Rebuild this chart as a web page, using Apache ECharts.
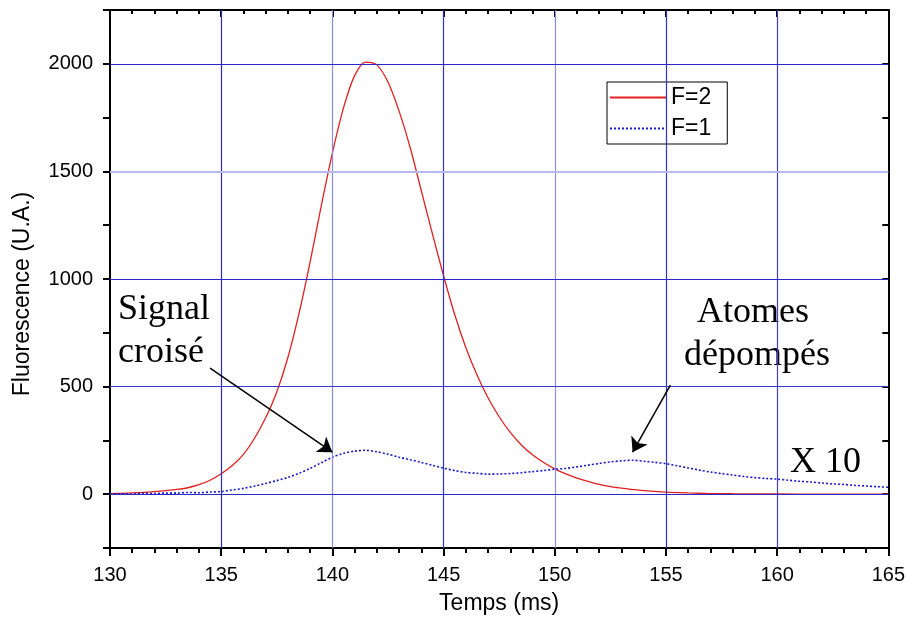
<!DOCTYPE html>
<html><head><meta charset="utf-8">
<script src="https://cdn.jsdelivr.net/npm/echarts@6/dist/echarts.min.js"></script>
<style>html,body{margin:0;padding:0;background:#fff}#c{width:908px;height:621px}</style>
</head><body><div id="c"></div>
<script>
// ---- data ----
const f2Time = [130,131,132,133,133.5,134,134.5,135,135.5,136,136.5,137,137.5,138,138.5,139,139.5,140,140.5,141,141.5,142,142.5,143,143.5,144,144.5,145,145.5,146,146.5,147,147.5,148,148.5,149,149.5,150,150.5,151,152,153,154,155,156,157,158,160,162,165];
const f2Vals = [3,6,12,22,30,44,65,95,133,185,260,355,475,635,840,1080,1340,1585,1795,1945,2008,1995,1915,1780,1610,1410,1210,1015,835,682,555,448,360,287,229,183,147,118,94,75,46,28,17,10,6,3,2,1,0,0];
const f1Time = [130,130.5,131,131.5,132,132.5,133,133.5,134,134.5,135,135.5,136,136.5,137,137.5,138,138.5,139,139.5,140,140.5,141,141.5,142,142.5,143,143.5,144,144.5,145,145.5,146,146.5,147,147.5,148,148.5,149,149.5,150,150.5,151,151.5,152,152.5,153,153.5,154,154.5,155,155.5,156,156.5,157,157.5,158,158.5,159,159.5,160,160.5,161,161.5,162,162.5,163,163.5,164,164.5,165];
const f1Vals = [0,2,1,4,3,5,5,8,7,10,12,20,27,38,50,63,78,97,120,146,172,190,200,204,197,186,172,160,148,134,121,110,101,97,93,94,96,100,105,110,116,120,127,135,143,150,155,158,153,148,142,132,122,112,103,96,89,82,77,73,70,65,60,57,52,48,45,41,38,35,32];
const xTicks = [130,135,140,145,150,155,160,165];
const yTickLabels = ['0','500','1000','1500','2000'];
const vGrid = [135,140,145,150,155,160];
const vGridColor = ['#2a2acc','#8a8ae0','#3030cc','#9090e2','#3030cc','#4040d0'];
const hGrid = [0,500,1000,1500,2000];
const hGridColor = ['#2a2acc','#3a3acc','#2a2acc','#b8b8ee','#2a2acc'];
const arrows = [[[134.5,586],[140.0,195]],[[155.2,507],[153.5,195]]];
const legendNames = ['F=2','F=1'];

const zip = (a,b)=>a.map((v,i)=>[v,b[i]]);
const gridLines = vGrid.map((v,i)=>({xAxis:v,lineStyle:{color:vGridColor[i]}}))
  .concat(hGrid.map((v,i)=>({yAxis:v,lineStyle:{color:hGridColor[i],width:i===3?2:1.2}})));

const chart = echarts.init(document.getElementById('c'));
const axisCommon = {
  type:'value',
  axisLine:{show:true,onZero:false,lineStyle:{color:'#000',width:2}},
  splitLine:{show:false}
};
chart.setOption({
  animation:false,
  backgroundColor:'#fff',
  grid:{left:110,right:18,top:10,bottom:73},
  legend:{
    data:legendNames, orient:'vertical', left:607, top:82,
    padding:[4,16,4,2], itemGap:8, itemWidth:56, itemHeight:20,
    borderColor:'#000', borderWidth:1, backgroundColor:'#fff',
    itemStyle:{opacity:0},
    textStyle:{fontFamily:'Liberation Sans, Arial', fontSize:23, color:'#000'}
  },
  xAxis:[
    Object.assign({},axisCommon,{min:130,max:165,interval:5,position:'bottom',
      name:'Temps (ms)', nameLocation:'middle', nameGap:44,
      nameTextStyle:{fontFamily:'Liberation Sans, Arial',fontSize:23,color:'#000'},
      axisTick:{show:true,length:8,inside:false,lineStyle:{color:'#000',width:2}},
      minorTick:{show:true,splitNumber:5,length:5,lineStyle:{color:'#000',width:2}},
      axisLabel:{fontFamily:'Liberation Sans, Arial',fontSize:20,color:'#000',margin:17}}),
    Object.assign({},axisCommon,{min:130,max:165,interval:5,position:'top',
      axisTick:{show:true,length:7,inside:true,lineStyle:{color:'#000',width:2}},
      minorTick:{show:true,splitNumber:5,length:4,lineStyle:{color:'#000',width:2}},
      axisLabel:{show:false}})
  ],
  yAxis:[
    Object.assign({},axisCommon,{min:-250,max:2250,interval:250,position:'left',
      name:'Fluorescence (U.A.)', nameLocation:'middle', nameGap:76,
      nameTextStyle:{fontFamily:'Liberation Sans, Arial',fontSize:23,color:'#000',padding:[0,0,0,-30]},
      axisTick:{show:true,length:7,inside:false,lineStyle:{color:'#000',width:2}},
      axisLabel:{fontFamily:'Liberation Sans, Arial',fontSize:20,color:'#000',margin:17,
        formatter:v=>(yTickLabels.indexOf(String(v))>=0?String(v):'')}}),
    Object.assign({},axisCommon,{min:-250,max:2250,interval:250,position:'right',
      axisTick:{show:true,length:6,inside:true,lineStyle:{color:'#000',width:2}},
      axisLabel:{show:false}})
  ],
  graphic:[
    {type:'text',left:118,top:292,style:{text:'Signal',font:'36px "Liberation Serif"',fill:'#000'}},
    {type:'text',left:118,top:335,style:{text:'croisé',font:'36px "Liberation Serif"',fill:'#000'}},
    {type:'text',left:697,top:295,style:{text:'Atomes',font:'36px "Liberation Serif"',fill:'#000'}},
    {type:'text',left:684,top:338,style:{text:'dépompés',font:'36px "Liberation Serif"',fill:'#000'}},
    {type:'text',left:790,top:445,style:{text:'X 10',font:'36px "Liberation Serif"',fill:'#000'}}
  ],
  series:[
    {name:'grid', type:'line', data:[], z:1, silent:true,
     markLine:{silent:true,symbol:['none','none'],label:{show:false},
       lineStyle:{type:'solid',width:1.2},data:gridLines}},
    {name:'F=2', type:'line', data:zip(f2Time,f2Vals), smooth:0.3, symbol:'none', z:3,
     lineStyle:{color:'#e02020',width:1.3}, itemStyle:{color:'#e02020'}},
    {name:'F=1', type:'line', data:zip(f1Time,f1Vals), smooth:0.3, symbol:'none', z:3,
     lineStyle:{color:'#1a1acc',width:1.6,type:[2,2]}, itemStyle:{color:'#1a1acc'}},
    {name:'arrows', type:'line', data:[], z:4, silent:true,
     markLine:{silent:true,symbol:['none','arrow'],symbolSize:14,label:{show:false},
       lineStyle:{color:'#000',width:1.5,type:'solid'},
       data:arrows.map(a=>[{coord:a[0]},{coord:a[1]}])}}
  ]
});
</script></body></html>
